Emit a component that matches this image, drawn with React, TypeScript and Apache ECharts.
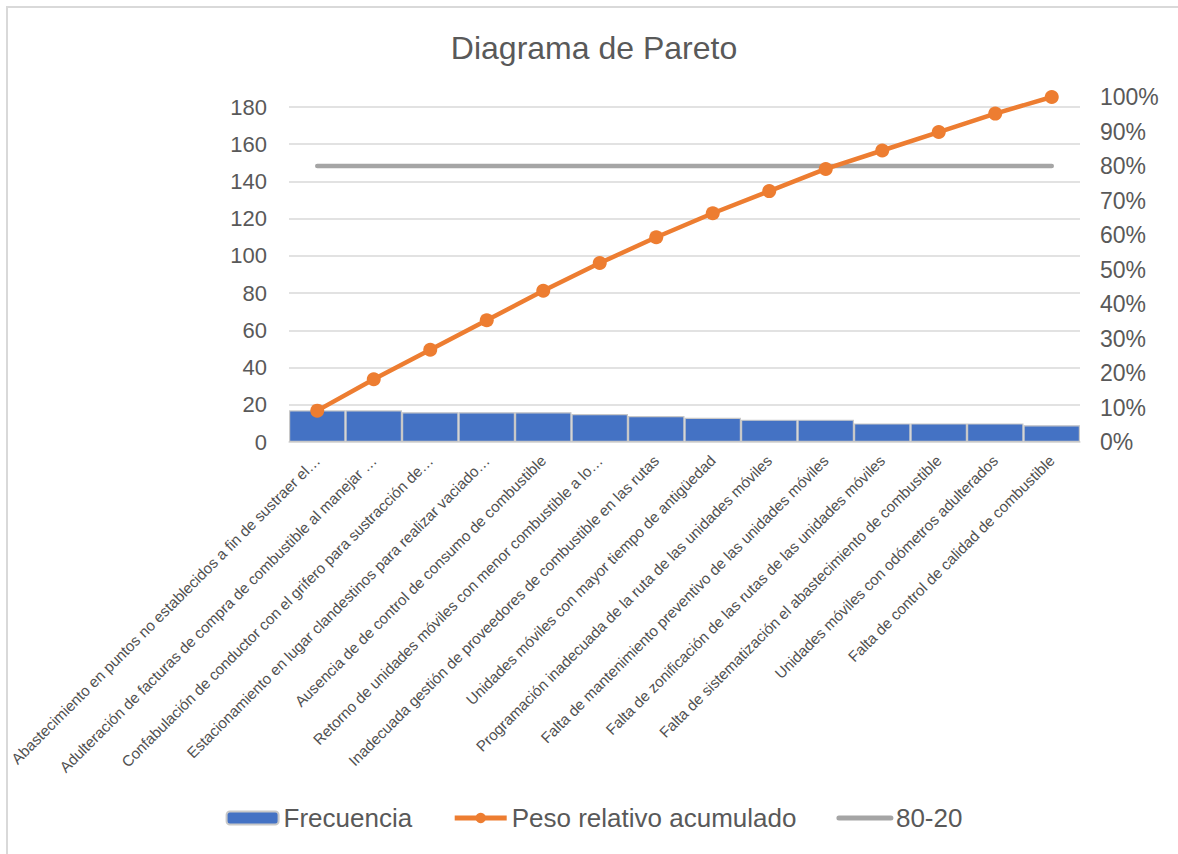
import React, { useEffect, useRef } from "react";
import * as echarts from "echarts";

// Causes, sorted by frequency (long names shortened the way they appear on the axis)
const categories: string[] = [
  "Abastecimiento en puntos no establecidos a fin de sustraer el…",
  "Adulteración de facturas de compra de combustible al manejar …",
  "Confabulación de conductor con el grifero para sustracción de…",
  "Estacionamiento en lugar clandestinos para realizar vaciado…",
  "Ausencia de de control de consumo de combustible",
  "Retorno de unidades móviles con menor combustible a lo…",
  "Inadecuada gestión de proveedores de combustible en las rutas",
  "Unidades móviles con mayor tiempo de antigüedad",
  "Programación inadecuada de la ruta de las unidades móviles",
  "Falta de mantenimiento preventivo de las unidades móviles",
  "Falta de zonificación de las rutas de las unidades móviles",
  "Falta de sistematización el abastecimiento de combustible",
  "Unidades móviles con odómetros adulterados",
  "Falta de control de calidad de combustible",
];

const frecuencia: number[] = [17, 17, 16, 16, 16, 15, 14, 13, 12, 12, 10, 10, 10, 9];

// Cumulative relative weight (%)
const pesoAcumulado: number[] = [
  9.09, 18.18, 26.74, 35.29, 43.85, 51.87, 59.36, 66.31, 72.73, 79.14, 84.49, 89.84, 95.19, 100,
];

// 80-20 reference level (%)
const linea8020: number[] = [80, 80, 80, 80, 80, 80, 80, 80, 80, 80, 80, 80, 80, 80];

const leftTicks = { min: 0, max: 180, interval: 20 };
const rightTicks = { min: 0, max: 100, interval: 10 };

const TEXT = "#595959";
const GRID_LINE = "#d9d9d9";
const SANS = "Liberation Sans, Arial, sans-serif";

export default function App() {
  const ref = useRef<HTMLDivElement>(null);

  useEffect(() => {
    if (!ref.current) return;
    const chart = echarts.init(ref.current, undefined, { renderer: "svg" });

    const gridLeft = 281;
    const gridWidth = 791;
    const gridBottomY = 434;

    chart.setOption({
      animation: false,
      title: {
        text: "Diagrama de Pareto",
        left: "center",
        top: 19,
        textStyle: {
          fontFamily: SANS,
          fontSize: 32,
          fontWeight: "normal",
          color: TEXT,
        },
      },
      legend: {
        bottom: 20,
        left: "center",
        itemWidth: 52,
        itemHeight: 13,
        itemGap: 40,
        lineStyle: { width: 5 },
        textStyle: {
          fontFamily: SANS,
          fontSize: 26,
          color: TEXT,
        },
        data: [
          { name: "Frecuencia" },
          { name: "Peso relativo acumulado" },
          { name: "80-20", itemStyle: { opacity: 0 } },
        ],
      },
      grid: [
        // bars and left axis
        { left: gridLeft, width: gridWidth, top: 99, height: gridBottomY - 99, outerBoundsMode: "none", containLabel: false },
        // cumulative line and right axis
        { left: gridLeft, width: gridWidth, top: 89, height: gridBottomY - 89, outerBoundsMode: "none", containLabel: false },
      ],
      xAxis: [
        {
          type: "category",
          gridIndex: 0,
          data: categories,
          axisLine: { show: true, lineStyle: { color: GRID_LINE, width: 1.5 } },
          axisTick: { show: false },
          axisLabel: {
            interval: 0,
            rotate: 45,
            margin: 16,
            color: "#505050",
            fontSize: 15.2,
            fontFamily: SANS,
          },
        },
        {
          type: "category",
          gridIndex: 1,
          data: categories,
          show: false,
        },
      ],
      yAxis: [
        {
          type: "value",
          gridIndex: 0,
          min: leftTicks.min,
          max: leftTicks.max,
          interval: leftTicks.interval,
          axisLine: { show: false },
          axisTick: { show: false },
          axisLabel: {
            margin: 22,
            color: TEXT,
            fontSize: 22,
            fontFamily: SANS,
          },
          splitLine: { show: true, lineStyle: { color: GRID_LINE, width: 1.5 } },
        },
        {
          type: "value",
          gridIndex: 1,
          position: "right",
          min: rightTicks.min,
          max: rightTicks.max,
          interval: rightTicks.interval,
          axisLine: { show: false },
          axisTick: { show: false },
          axisLabel: {
            margin: 20,
            color: TEXT,
            fontSize: 23,
            fontFamily: SANS,
            formatter: "{value}%",
          },
          splitLine: { show: false },
        },
      ],
      series: [
        {
          name: "Frecuencia",
          type: "bar",
          xAxisIndex: 0,
          yAxisIndex: 0,
          data: frecuencia,
          barCategoryGap: "0%",
          itemStyle: { color: "#4472C4", borderColor: "#c8c8c8", borderWidth: 1.2 },
          z: 2,
        },
        {
          name: "80-20",
          type: "line",
          xAxisIndex: 1,
          yAxisIndex: 1,
          data: linea8020,
          symbol: "none",
          lineStyle: { color: "#A5A5A5", width: 4.5, cap: "round" },
          itemStyle: { color: "#A5A5A5" },
          z: 3,
        },
        {
          name: "Peso relativo acumulado",
          type: "line",
          xAxisIndex: 1,
          yAxisIndex: 1,
          data: pesoAcumulado,
          symbol: "circle",
          symbolSize: 14,
          clip: false,
          lineStyle: { color: "#ED7D31", width: 4.5 },
          itemStyle: { color: "#ED7D31" },
          z: 4,
        },
      ],
    });

    return () => chart.dispose();
  }, []);

  return (
    <div
      style={{
        position: "fixed",
        left: 6,
        top: 6,
        borderLeft: "2px solid #d9d9d9",
        borderTop: "2px solid #d9d9d9",
        background: "#fff",
      }}
    >
      <div ref={ref} style={{ width: 1172, height: 848 }} />
    </div>
  );
}
